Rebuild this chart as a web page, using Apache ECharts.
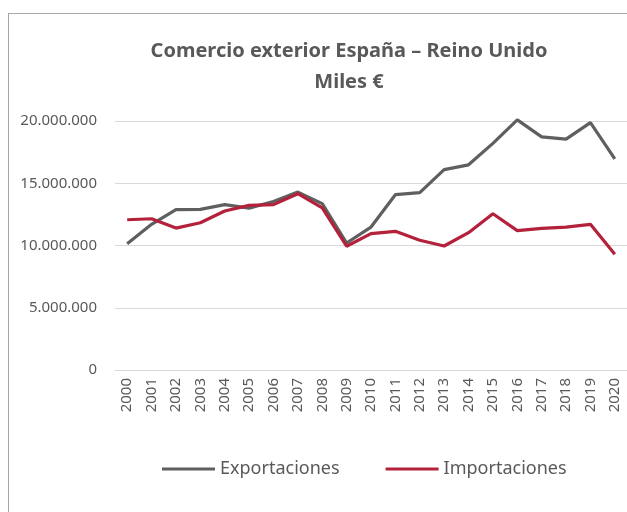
<!DOCTYPE html>
<html>
<head>
<meta charset="utf-8">
<script src="https://cdn.jsdelivr.net/npm/echarts@6/dist/echarts.min.js"></script>
<style>
  html, body { margin: 0; padding: 0; background: #fff; overflow: hidden; }
  #frame { position: absolute; left: 8px; top: 13px; width: 700px; height: 600px;
           border-left: 1px solid #a6a6a6; border-top: 1px solid #a6a6a6; }
  #chart { position: absolute; left: 0; top: 0; width: 627px; height: 512px; }
</style>
</head>
<body>
<div id="frame"></div>
<div id="chart"></div>
<script>
// años
const years = ['2000','2001','2002','2003','2004','2005','2006','2007','2008','2009','2010',
  '2011','2012','2013','2014','2015','2016','2017','2018','2019','2020'];
// miles de euros
const exportaciones = [10150000, 11700000, 12880000, 12900000, 13280000, 13000000, 13540000,
  14290000, 13360000, 10200000, 11480000, 14080000, 14240000, 16100000, 16480000, 18200000,
  20090000, 18720000, 18540000, 19870000, 16960000];
const importaciones = [12070000, 12150000, 11400000, 11830000, 12770000, 13220000, 13280000,
  14160000, 13030000, 9940000, 10950000, 11140000, 10420000, 9960000, 11030000, 12550000,
  11190000, 11380000, 11480000, 11700000, 9300000];

const chart = echarts.init(document.getElementById('chart'));

function fmt(v) {
  return String(v).replace(/\B(?=(\d{3})+(?!\d))/g, '.');
}

const font = 'Noto Sans';
const option = {
  animation: false,
  title: {
    text: 'Comercio exterior España – Reino Unido\nMiles €',
    left: 344,
    textAlign: 'center',
    top: 31,
    textStyle: { fontFamily: font, fontSize: 20, fontWeight: 'bold', color: '#595959', lineHeight: 31 }
  },
  legend: {
    data: ['Exportaciones', 'Importaciones'],
    left: 157,
    top: 455,
    icon: 'rect',
    itemWidth: 53,
    itemHeight: 3,
    itemGap: 46,
    textStyle: { fontFamily: font, fontSize: 18, color: '#595959' }
  },
  grid: { left: 115, right: -5, top: 121, bottom: 142, containLabel: false },
  xAxis: {
    type: 'category',
    data: years,
    boundaryGap: true,
    axisLine: { lineStyle: { color: '#d9d9d9', width: 1 } },
    axisTick: { show: false },
    axisLabel: { rotate: 90, margin: 8, fontFamily: font, fontSize: 15, color: '#595959' }
  },
  yAxis: {
    type: 'value',
    min: 0,
    max: 20000000,
    interval: 5000000,
    axisLine: { show: false },
    axisTick: { show: false },
    splitLine: { lineStyle: { color: '#d9d9d9', width: 1 } },
    axisLabel: { margin: 18, fontFamily: font, fontSize: 15, color: '#595959', formatter: fmt }
  },
  series: [
    {
      name: 'Exportaciones', type: 'line', data: exportaciones,
      symbol: 'none', clip: false,
      lineStyle: { color: '#5f5f5f', width: 3.2 }, itemStyle: { color: '#5f5f5f' }
    },
    {
      name: 'Importaciones', type: 'line', data: importaciones,
      symbol: 'none', clip: false,
      lineStyle: { color: '#b3213b', width: 3.2 }, itemStyle: { color: '#b3213b' }
    }
  ]
};
chart.setOption(option);
</script>
</body>
</html>
